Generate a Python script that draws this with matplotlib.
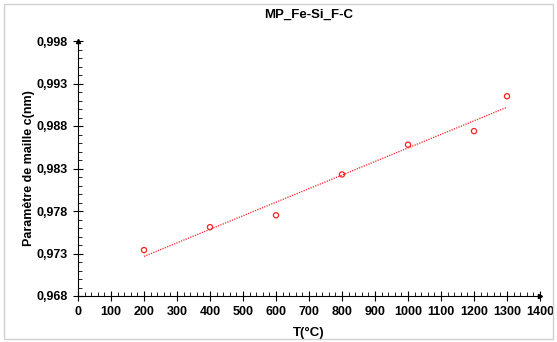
import numpy as np
import matplotlib
matplotlib.use("Agg")
import matplotlib.pyplot as plt
from matplotlib.ticker import MultipleLocator, FixedLocator, FuncFormatter
from matplotlib.patches import Rectangle

plt.rcParams.update({"font.family": "Liberation Sans", "font.size": 9, "font.weight": "bold"})

temps = [200, 400, 600, 800, 1000, 1200, 1300]
c_param = [0.9734, 0.9761, 0.9775, 0.9823, 0.9858, 0.9874, 0.9915]
y_ticks = [0.968, 0.973, 0.978, 0.983, 0.988, 0.993, 0.998]

fig = plt.figure(figsize=(5.57, 3.42), dpi=100)
ax = fig.add_axes([78 / 557, 1 - 296 / 342, 462 / 557, 255 / 342])

# light frame around the whole picture
fig.patches.append(Rectangle((4 / 557, 3 / 342), 549 / 557, 335 / 342, transform=fig.transFigure,
                             fill=False, edgecolor="#d0d0d0", lw=1.0))

ax.scatter(temps, c_param, s=14, facecolors="none", edgecolors="#ff2020", lw=0.9, zorder=3)
k, b = np.polyfit(temps, c_param, 1)
xs = np.array([temps[0], temps[-1]])
ax.plot(xs, k * xs + b, color="#ff2020", lw=0.9, ls=(0, (1, 1)))

ax.set_xlim(0, 1400)
ax.set_ylim(0.968, 0.998)
ax.xaxis.set_major_locator(MultipleLocator(100))
ax.xaxis.set_minor_locator(MultipleLocator(20))
ax.yaxis.set_major_locator(FixedLocator(y_ticks))
ax.yaxis.set_minor_locator(FixedLocator(np.arange(0.968, 0.9985, 0.001)))
ax.yaxis.set_major_formatter(FuncFormatter(lambda v, p: f"{v:.3f}".replace(".", ",")))
ax.tick_params(which="major", direction="inout", length=7, width=0.8, labelsize=9, pad=4)
ax.tick_params(which="minor", direction="in", length=3, width=0.6)
for s in ("top", "right"):
    ax.spines[s].set_visible(False)
for s in ("left", "bottom"):
    ax.spines[s].set_linewidth(0.8)
ax.plot(1, 0, ">k", ms=3, transform=ax.transAxes, clip_on=False)
ax.plot(0, 1, "^k", ms=3, transform=ax.transAxes, clip_on=False)

ax.set_title("MP_Fe-Si_F-C", fontsize=9.5, fontweight="bold", pad=17)
ax.set_xlabel("T(°C)", fontsize=9.5, fontweight="bold", labelpad=6)
ax.set_ylabel("Paramètre de maille c(nm)", fontsize=9, fontweight="bold", labelpad=1)

fig.savefig("out.png", dpi=100)
